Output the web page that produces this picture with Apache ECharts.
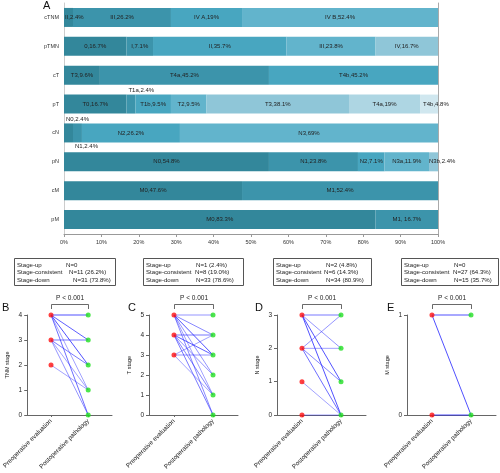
<!DOCTYPE html>
<html><head><meta charset="utf-8">
<script src="https://cdn.jsdelivr.net/npm/echarts@6/dist/echarts.min.js"></script>
<style>html,body{margin:0;padding:0;background:#fff}#c{width:500px;height:473px}</style>
</head><body><div id="c"></div>
<script>
// ---------- Panel A data ----------
const categories = ['cTNM','pTMN','cT','pT','cN','pN','cM','pM'];
const segNames = [
  ['II','III','IV A','IV B'],
  ['0','I','II','III','IV'],
  ['T3','T4a','T4b'],
  ['T0','T1a','T1b','T2','T3','T4a','T4b'],
  ['N0','N1','N2','N3'],
  ['N0','N1','N2','N3a','N3b'],
  ['M0','M1'],
  ['M0','M1']
];
const segValues = [
  [2.4,26.2,19,52.4],
  [16.7,7.1,35.7,23.8,16.7],
  [9.6,45.2,45.2],
  [16.7,2.4,9.5,9.5,38.1,19,4.8],
  [2.4,2.4,26.2,69],
  [54.8,23.8,7.1,11.9,2.4],
  [47.6,52.4],
  [83.3,16.7]
];
const pctTicks = [0,10,20,30,40,50,60,70,80,90,100];

// ---------- Panels B-E data: [pre, post, count] ----------
const stageCats = ['Preoperative evaluation','Postoperative pathology'];
const tnmPairs = [[4,4,7],[4,3,6],[4,2,11],[4,1,1],[4,0,5],[3,3,4],[3,2,4],[3,1,1],[3,0,2],[2,1,1]];
const tPairs = [[5,5,2],[5,4,3],[5,3,8],[5,2,2],[5,1,1],[5,0,3],[4,4,4],[4,3,6],[4,2,2],[4,1,3],[4,0,4],[3,4,1],[3,3,2],[3,1,1]];
const nPairs = [[3,3,4],[3,2,2],[3,1,7],[3,0,16],[2,3,2],[2,2,1],[2,1,3],[2,0,5],[1,0,1],[0,0,1]];
const mPairs = [[1,1,7],[1,0,15],[0,0,20]];
const panelLetters = ['B','C','D','E'];
const yNames = ['TNM stage','T stage','N stage','M stage'];
const yMaxes = [4,5,3,1];
const upTexts = ['N=0','N=1 (2.4%)','N=2 (4.8%)','N=0'];
const consTexts = ['N=11 (26.2%)','N=8 (19.0%)','N=6 (14.3%)','N=27 (64.3%)'];
const downTexts = ['N=31 (73.8%)','N=33 (78.6%)','N=34 (80.9%)','N=15 (35.7%)'];
const pTexts = ['P < 0.001','P < 0.001','P < 0.001','P < 0.001'];
const allPairs = [tnmPairs,tPairs,nPairs,mPairs];

const FONT = '"Liberation Sans", Arial, Helvetica, sans-serif';
const palette = ['#33879b','#3c94ab','#48a6c0','#62b4cc','#8fc6d8','#aed6e3','#d0e7ef'];
// special label placements (style only)
const labelPlace = {'0-0':'inL1','3-1':'above','3-6':'inL3','4-0':'above','4-1':'below','5-4':'inL0'};
const labelSep = {'7-1':', '};

const chart = echarts.init(document.getElementById('c'), null, {renderer:'canvas'});

const grids = [{left:64, top:3, width:374, height:231}];
const panelLeft = [23,149,277,407];
panelLeft.forEach(l => grids.push({left:l, top:315, width:89, height:100}));

const xAxes = [{
  gridIndex:0, type:'value', min:0, max:100, interval:10,
  axisLabel:{formatter:v=>v+'%', fontSize:5.5, color:'#333', margin:5, fontFamily:FONT},
  axisLine:{show:true, lineStyle:{color:'#999', width:1}},
  axisTick:{show:true, length:3, lineStyle:{color:'#999'}},
  splitLine:{show:false}
}];
const yAxes = [{
  gridIndex:0, type:'category', data:categories, inverse:true,
  axisLabel:{fontSize:5.5, color:'#333', margin:5, fontFamily:FONT},
  axisLine:{show:true, lineStyle:{color:'#ccc'}}, axisTick:{show:false}
},{
  gridIndex:0, type:'category', data:categories, inverse:true, position:'right',
  axisLabel:{show:false}, axisTick:{show:false},
  axisLine:{show:true, lineStyle:{color:'#aaa'}}
}];

const series = [];
for (let k = 0; k < 7; k++) {
  series.push({
    type:'bar', xAxisIndex:0, yAxisIndex:0, stack:'s', barWidth:19, animation:false,
    data: categories.map((c,i) => {
      const v = segValues[i][k];
      if (v === undefined) return null;
      const item = {value:v, itemStyle:{color:palette[k]}};
      const pl = labelPlace[i+'-'+k];
      if (pl === 'above') item.label = {position:[2,-1], align:'left', verticalAlign:'bottom'};
      else if (pl === 'below') item.label = {position:[2,20], align:'left', verticalAlign:'top'};
      else if (pl && pl.startsWith('inL')) item.label = {position:'insideLeft', distance:+pl.slice(3)};
      return item;
    }),
    label:{show:true, position:'inside', fontSize:6, color:'#222', fontFamily:FONT,
      formatter: p => segNames[p.dataIndex][k] + (labelSep[p.dataIndex+'-'+k] || ',') + p.value + '%'}
  });
}

allPairs.forEach((pairs, g) => {
  const gi = g + 1;
  xAxes.push({
    gridIndex:gi, type:'value', min:0.36, max:2.64,
    axisLine:{show:true, onZero:false, lineStyle:{color:'#666'}},
    axisTick:{show:true, customValues:[1,2], length:2, lineStyle:{color:'#666'}},
    axisLabel:{customValues:[1,2], rotate:45, formatter:v=>stageCats[Math.round(v)-1], fontSize:6.3, color:'#222', margin:5, fontFamily:FONT},
    splitLine:{show:false}
  });
  yAxes.push({
    gridIndex:gi, type:'value', min:0, max:yMaxes[g], interval:1,
    name:yNames[g], nameLocation:'middle', nameGap:17,
    nameTextStyle:{fontSize:5.5, color:'#222', fontFamily:FONT},
    axisLine:{show:true, lineStyle:{color:'#666'}},
    axisTick:{show:true, length:3, lineStyle:{color:'#666'}},
    axisLabel:{fontSize:6.5, color:'#222', margin:5, fontFamily:FONT},
    splitLine:{show:false}
  });
  const yi = gi + 1;
  pairs.forEach(pr => {
    const op = Math.min(0.92, 0.42 + 0.07 * pr[2]);
    series.push({type:'line', xAxisIndex:gi, yAxisIndex:yi, symbol:'none', clip:false, silent:true, animation:false,
      data:[[1,pr[0]],[2,pr[1]]], lineStyle:{color:'#2b2bff', width:0.9, opacity:op}, z:2});
  });
  const pre = [...new Set(pairs.map(p=>p[0]))].map(v=>[1,v]);
  const post = [...new Set(pairs.map(p=>p[1]))].map(v=>[2,v]);
  series.push({type:'scatter', xAxisIndex:gi, yAxisIndex:yi, data:pre, symbolSize:5, clip:false, animation:false,
    itemStyle:{color:'#ff1010'}, z:5});
  series.push({type:'scatter', xAxisIndex:gi, yAxisIndex:yi, data:post, symbolSize:5, clip:false, animation:false,
    itemStyle:{color:'#20e020'}, z:5});
});

chart.setOption({
  animation:false,
  grid:grids, xAxis:xAxes, yAxis:yAxes, series:series,
  textStyle:{fontFamily:FONT}
});

// annotations
const boxLeft = [14,143,273,401];
const boxW = [101,100,98,97];
const nOff = [[52,55,59],[53,52,53],[53,51,53],[53,52,53]];
const letterX = [2,128,255,387];
const g = [{type:'text', left:43, top:0, style:{text:'A', fontSize:11, fill:'#111', fontFamily:FONT}}];
for (let i = 0; i < 4; i++) {
  const bx = boxLeft[i];
  g.push({type:'rect', shape:{x:bx+0.5, y:258.5, width:boxW[i], height:27}, style:{fill:'none', stroke:'#555', lineWidth:1}});
  const rows = [['Stage-up', upTexts[i]], ['Stage-consistent', consTexts[i]], ['Stage-down', downTexts[i]]];
  rows.forEach((r, j) => {
    const y = 265.5 + j*7.3;
    g.push({type:'text', x:bx+3, y:y, style:{text:r[0], fontSize:6.1, fill:'#222', fontFamily:FONT, verticalAlign:'middle'}});
    g.push({type:'text', x:bx+nOff[i][j], y:y, style:{text:r[1], fontSize:6.1, fill:'#222', fontFamily:FONT, verticalAlign:'middle'}});
  });
  g.push({type:'text', x:letterX[i], y:302, style:{text:panelLetters[i], fontSize:11, fill:'#111', fontFamily:FONT}});
  const p1 = chart.convertToPixel({xAxisIndex:i+1, yAxisIndex:i+2}, [1,0]);
  const p2 = chart.convertToPixel({xAxisIndex:i+1, yAxisIndex:i+2}, [2,0]);
  const x1 = Math.round(p1[0]) + 0.5, x2 = Math.round(p2[0]) + 0.5;
  g.push({type:'polyline', shape:{points:[[x1,309],[x1,304.5],[x2,304.5],[x2,309]]}, style:{stroke:'#444', lineWidth:0.8, fill:null}});
  g.push({type:'text', x:(x1+x2)/2, y:298, style:{text:pTexts[i], fontSize:6.5, fill:'#222', fontFamily:FONT, align:'center', verticalAlign:'middle'}});
}
chart.setOption({graphic:g});
</script>
</body></html>
